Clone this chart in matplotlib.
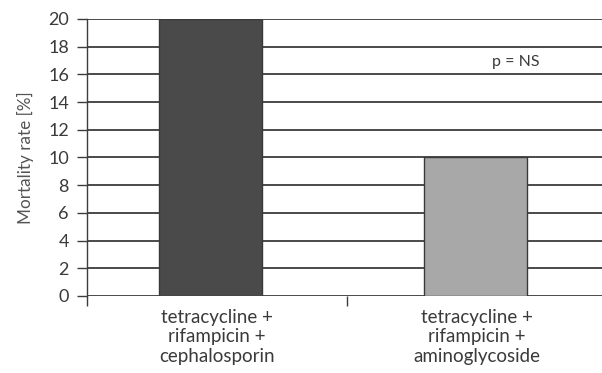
import matplotlib
matplotlib.use("Agg")
import matplotlib.pyplot as plt
import numpy as np

categories = ["tetracycline +\nrifampicin +\ncephalosporin",
              "tetracycline +\nrifampicin +\naminoglycoside"]
values = [20, 10]
bar_colors = ["#4a4a4a", "#a8a8a8"]
yticks = list(range(0, 21, 2))

plt.rcParams['font.family'] = ['Lato', 'DejaVu Sans']

fig = plt.figure(figsize=(6.02, 3.73), dpi=100)
ax = fig.add_axes([87/602, 77/373, 520/602, 277/373])

x = np.arange(len(categories))
xpos = x + np.array([-0.024, -0.006])
ax.set_axisbelow(True)
ax.bar(xpos, values, width=0.395, color=bar_colors, edgecolor="#3a3a3a", linewidth=1.0, zorder=3)

ax.set_xlim(-0.5, 1.5)
ax.set_ylim(0, 20)
ax.set_yticks(yticks)
ax.set_yticklabels([str(t) for t in yticks], fontsize=13, color="#3a3a3a")
for t in yticks:
    ax.axhline(t, color="#3c3c3c", linewidth=1.3, zorder=1)

ax.set_xticks([-0.5, 0.5, 1.5])
ax.set_xticklabels([])
ax.set_xticks(x, minor=True)
ax.set_xticklabels(categories, minor=True, fontsize=13.5, color="#3a3a3a", linespacing=1.2)
ax.tick_params(axis='x', which='major', length=7, width=1.0, color="#3c3c3c", direction='out')
ax.tick_params(axis='x', which='minor', length=0, pad=9)
ax.tick_params(axis='y', length=7, width=1.0, color="#3c3c3c", pad=6)

for s in ["top", "right", "bottom"]:
    ax.spines[s].set_visible(False)
ax.spines["left"].set_color("#3c3c3c")
ax.spines["left"].set_linewidth(1.0)

ax.set_ylabel("Mortality rate [%]", fontsize=12.3, color="#555555", labelpad=10)
ax.text(1.15, 16.9, "p = NS", fontsize=11.5, color="#3a3a3a", ha="center", va="center")

fig.savefig("out.png", dpi=100)
